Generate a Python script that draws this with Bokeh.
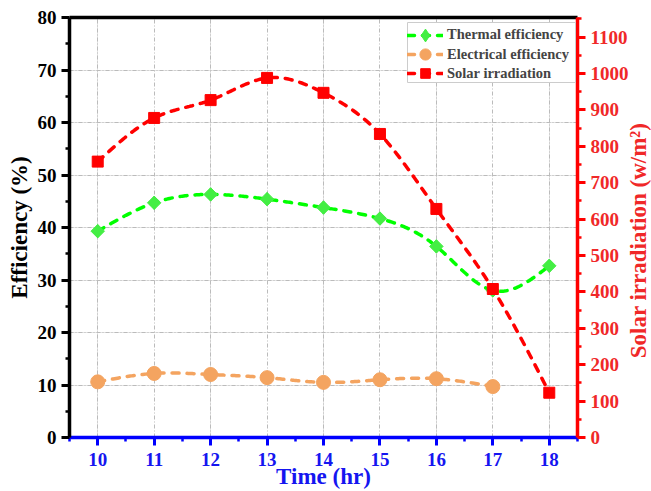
import numpy as np
from bokeh.plotting import figure
from bokeh.layouts import row
from bokeh.models import (Range1d, LinearAxis, Legend, LegendItem, FixedTicker, Grid,
                          BoxAnnotation, Label)
from bokeh.embed import file_html
from bokeh.resources import INLINE

# ---- data ----
hours = [10, 11, 12, 13, 14, 15, 16, 17, 18]
thermal_eff = [39.3, 44.7, 46.3, 45.4, 43.8, 41.7, 36.4, 28.0, 32.7]
elec_hours = [10, 11, 12, 13, 14, 15, 16, 17]
electrical_eff = [10.6, 12.2, 12.0, 11.4, 10.5, 11.0, 11.2, 9.7]
solar_irr = [758, 878, 927, 988, 947, 834, 628, 408, 123]

eff_ticks = [0, 10, 20, 30, 40, 50, 60, 70, 80]
irr_ticks = [0, 100, 200, 300, 400, 500, 600, 700, 800, 900, 1000, 1100]

FONT = "Liberation Serif"
GREEN_LINE = "#00ff00"
GREEN_MK = "#44ee44"
ORANGE = "#f4a460"
RED = "#ff0000"
BLUE = "#0000ff"


def spline(x, y, n=40):
    """Natural cubic spline through the points (rendering of the smooth connector)."""
    x = np.asarray(x, float)
    y = np.asarray(y, float)
    m = len(x)
    h = np.diff(x)
    A = np.zeros((m, m))
    b = np.zeros(m)
    A[0, 0] = A[-1, -1] = 1
    for i in range(1, m - 1):
        A[i, i - 1] = h[i - 1]
        A[i, i] = 2 * (h[i - 1] + h[i])
        A[i, i + 1] = h[i]
        b[i] = 3 * ((y[i + 1] - y[i]) / h[i] - (y[i] - y[i - 1]) / h[i - 1])
    c = np.linalg.solve(A, b)
    xs, ys = [], []
    for i in range(m - 1):
        t = np.linspace(0, h[i], n, endpoint=(i == m - 2))
        bi = (y[i + 1] - y[i]) / h[i] - h[i] * (2 * c[i] + c[i + 1]) / 3
        di = (c[i + 1] - c[i]) / (3 * h[i])
        xs.append(x[i] + t)
        ys.append(y[i] + bi * t + c[i] * t ** 2 + di * t ** 3)
    return np.concatenate(xs), np.concatenate(ys)


fig = figure(width=631, height=491,
             x_range=Range1d(9.5, 18.5), y_range=Range1d(0, 80),
             output_backend="svg", toolbar_location=None,
             x_axis_location=None, y_axis_location=None,
             min_border_left=69, min_border_right=51,
             min_border_top=17, min_border_bottom=53)
fig.extra_y_ranges = {"irr": Range1d(0, 1154)}
fig.outline_line_color = None
fig.background_fill_color = "white"
fig.border_fill_color = "white"


def style_axis(ax, color, label_color=None):
    label_color = label_color or color
    ax.axis_line_color = color
    ax.axis_line_width = 3.5
    ax.major_tick_line_color = color
    ax.major_tick_line_width = 3
    ax.major_tick_out = 8
    ax.major_tick_in = 0
    ax.minor_tick_line_color = color
    ax.minor_tick_line_width = 2.5
    ax.minor_tick_out = 4
    ax.minor_tick_in = 0
    ax.major_label_text_font = FONT
    ax.major_label_text_font_style = "bold"
    ax.major_label_text_font_size = "19px"
    ax.major_label_text_color = label_color
    ax.axis_label_text_font = FONT
    ax.axis_label_text_font_style = "bold"
    ax.axis_label_text_font_size = "23px"
    ax.axis_label_text_color = label_color


def set_safe(obj, name, val, fallback):
    try:
        setattr(obj, name, val)
        return True
    except Exception:
        setattr(obj, name, fallback)
        return False


left = LinearAxis(ticker=FixedTicker(ticks=eff_ticks, minor_ticks=[5, 15, 25, 35, 45, 55, 65, 75]),
                  axis_label="Efficiency (%)")
style_axis(left, "black")
left.major_label_standoff = 5
left.axis_label_standoff = 3
fig.add_layout(left, "left")

bottom = LinearAxis(ticker=FixedTicker(ticks=hours, minor_ticks=[9.5 + i for i in range(10)]),
                    axis_label="Time (hr)")
style_axis(bottom, BLUE, "#1515f0")
bottom.major_label_standoff = 7
set_safe(bottom, "axis_label_standoff", -5, 0)
fig.add_layout(bottom, "below")

right = LinearAxis(y_range_name="irr",
                   ticker=FixedTicker(ticks=irr_ticks, minor_ticks=[50 + 100 * i for i in range(12)]))
style_axis(right, RED, "#f02828")
right.major_label_standoff = 5
fig.add_layout(right, "right")

top = LinearAxis(ticker=FixedTicker(ticks=[]))
top.axis_line_color = "black"
top.axis_line_width = 3.5
top.major_tick_line_color = None
top.minor_tick_line_color = None
top.major_label_text_font_size = "0px"
fig.add_layout(top, "above")

fig.add_layout(Grid(dimension=0, ticker=FixedTicker(ticks=hours),
                    grid_line_color="#bbbbbb", grid_line_dash="4 2 1 2", grid_line_width=1))
fig.add_layout(Grid(dimension=1, ticker=FixedTicker(ticks=eff_ticks[1:-1]),
                    grid_line_color="#bbbbbb", grid_line_dash="4 2 1 2", grid_line_width=1))

DASH = "7 8"

tx, ty = spline(hours, thermal_eff)
l1 = fig.line(tx, ty, line_color=GREEN_LINE, line_width=3.5, line_dash=DASH, line_cap="round")
# diamond glyph (used for the legend key) under the rotated squares
k1 = fig.scatter(hours, thermal_eff, marker="diamond", size=13,
                 fill_color=GREEN_MK, line_color=GREEN_MK)
m1 = fig.scatter(hours, thermal_eff, marker="square", angle=np.pi / 4, size=9.5,
                 fill_color=GREEN_MK, line_color=GREEN_MK)

ex, ey = spline(elec_hours, electrical_eff)
l2 = fig.line(ex, ey, line_color=ORANGE, line_width=3.5, line_dash=DASH, line_cap="round")
m2 = fig.scatter(elec_hours, electrical_eff, marker="circle", size=14,
                 fill_color=ORANGE, line_color=ORANGE)

sx, sy = spline(hours, solar_irr)
l3 = fig.line(sx, sy, line_color=RED, line_width=3.5, line_dash=DASH, line_cap="round",
              y_range_name="irr")
m3 = fig.scatter(hours, solar_irr, marker="square", size=11,
                 fill_color=RED, line_color=RED, y_range_name="irr")

# legend frame (white box with light grey border)
fig.add_layout(BoxAnnotation(left=338, right=506, top=415, bottom=355,
                             left_units="screen", right_units="screen",
                             top_units="screen", bottom_units="screen",
                             fill_color="white", fill_alpha=1,
                             line_color="#cccccc", line_width=1, line_alpha=1))

# one legend row each, so every row can have its own marker size
rows = [
    ("Thermal efficiency", [l1, k1], 32, 402.3),
    ("Electrical efficiency", [l2, m2], 28, 383.0),
    ("Solar irradiation", [l3, m3], 24, 364.0),
]
for label, rends, gh, cy in rows:
    lg = Legend(items=[LegendItem(label=label, renderers=rends)],
                location=(338, cy - gh / 2))
    lg.label_text_font = FONT
    lg.label_text_font_style = "bold"
    lg.label_text_font_size = "14.5px"
    lg.label_height = 19
    lg.glyph_height = gh
    lg.glyph_width = 36
    lg.label_standoff = 4
    lg.spacing = 0
    lg.padding = 0
    lg.margin = 0
    lg.border_line_color = None
    lg.background_fill_alpha = 0
    fig.add_layout(lg)

# transparent strip at the right carrying the right-axis title (reads bottom-to-top)
side = figure(width=20, height=491, output_backend="svg", toolbar_location=None,
              x_axis_location=None, y_axis_location=None,
              x_range=Range1d(0, 1), y_range=Range1d(0, 1),
              min_border_left=0, min_border_right=0, min_border_top=0, min_border_bottom=0)
side.outline_line_color = None
side.background_fill_alpha = 0
side.border_fill_alpha = 0
side.grid.visible = False
label_x = 7
if set_safe(side, "margin", (0, 0, 0, -6), (0, 0, 0, 0)):
    side.width = 26
    label_x = 13
side.add_layout(Label(x=label_x, y=197, x_units="screen", y_units="screen",
                      text="Solar irradiation (w/m²)", angle=np.pi / 2,
                      text_align="center", text_baseline="middle",
                      text_font=FONT, text_font_style="bold", text_font_size="23px",
                      text_color="#f02828"))

p = row(fig, side, spacing=0)

open("out.html", "w").write(file_html(p, INLINE))
